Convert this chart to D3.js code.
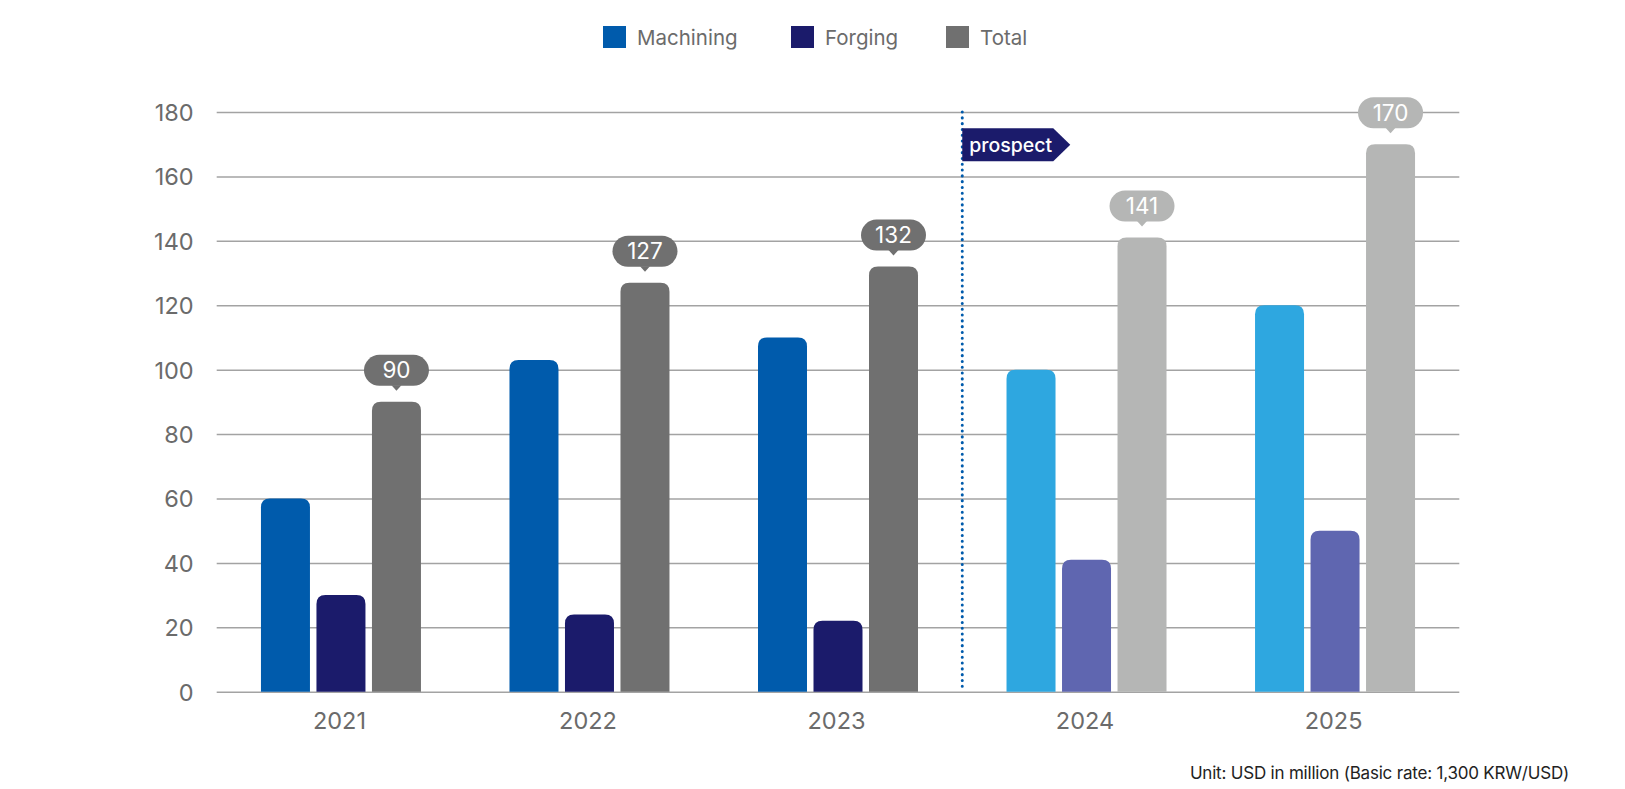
<!DOCTYPE html>
<html><head><meta charset="utf-8">
<script src="https://cdn.jsdelivr.net/npm/d3@7"></script>
<style>
html,body{margin:0;padding:0;background:#fff;}
svg{display:block;font-family:Inter,"Noto Sans",sans-serif;}
</style></head>
<body>
<svg id="chart" width="1625" height="789"></svg>
<script>
const years = ["2021","2022","2023","2024","2025"];
const machining = [60,103,110,100,120];
const forging = [30,24,22,41,50];
const total = [90,127,132,141,170];
const isProspect = [false,false,false,true,true];
const seriesNames = ["Machining","Forging","Total"];
const yTicks = [0,20,40,60,80,100,120,140,160,180];
const colorsActual = ["#005BAC","#1B1B6B","#707070"];
const colorsProspect = ["#2EA7E0","#5F66B0","#B5B6B5"];
const prospectLabel = "prospect";
const unitText = "Unit: USD in million (Basic rate: 1,300 KRW/USD)";

(function(){
const svg = d3.select("#chart");
const pLeft = 216.7, pRight = 1459.3, pTop = 112, pBottom = 691.7;
const x = d3.scaleBand().domain(years).range([pLeft,pRight]).padding(0);
const y = d3.scaleLinear().domain([0,180]).range([pBottom,pTop]);
const barW = 49, gap = 6.5;
const textColor = "#6b6b6b";

// grid
const yAxis = d3.axisLeft(y).tickValues(yTicks).tickSize(-(pRight-pLeft)).tickPadding(23);
const ga = svg.append("g").attr("transform",`translate(${pLeft},0)`).call(yAxis);
ga.select(".domain").remove();
ga.selectAll(".tick line").attr("stroke","#a3a3a3").attr("stroke-width",1.5);
ga.selectAll(".tick text").attr("fill",textColor).attr("font-size",23.5).attr("font-family","Inter").attr("dy","0.36em");

// x labels
const xAxis = d3.axisBottom(x).tickSize(0).tickPadding(21);
const gx = svg.append("g").attr("transform",`translate(-1.5,${pBottom})`).call(xAxis);
gx.select(".domain").remove();
gx.selectAll(".tick text").attr("fill",textColor).attr("font-size",23.5).attr("font-family","Inter").attr("dy","0.71em");

function topRounded(x0,y0,w,h,r){
  r = Math.min(r,h,w/2);
  return `M${x0},${y0+h}V${y0+r}Q${x0},${y0} ${x0+r},${y0}H${x0+w-r}Q${x0+w},${y0} ${x0+w},${y0+r}V${y0+h}Z`;
}

const series = [machining, forging, total];
years.forEach((yr,i)=>{
  const c = x(yr) + x.bandwidth()/2;
  series.forEach((arr,s)=>{
    const x0 = c + (s-1)*(barW+gap) - barW/2;
    const y0 = y(arr[i]);
    const col = (isProspect[i]?colorsProspect:colorsActual)[s];
    svg.append("path").attr("d",topRounded(x0,y0,barW,pBottom-y0,9)).attr("fill",col);
  });
  // callout
  const tc = c + (barW+gap);
  const ty = y(total[i]);
  const col = (isProspect[i]?colorsProspect:colorsActual)[2];
  const pw = 65, ph = 31;
  const pb = ty - 16;
  svg.append("rect").attr("x",tc-pw/2).attr("y",pb-ph).attr("width",pw).attr("height",ph)
    .attr("rx",15.5).attr("fill",col);
  svg.append("path").attr("d",`M${tc-5},${pb-0.5}L${tc},${pb+5}L${tc+5},${pb-0.5}Z`).attr("fill",col);
  svg.append("text").attr("x",tc).attr("y",pb-ph/2).attr("dy","0.36em").attr("text-anchor","middle")
    .attr("fill","#fff").attr("font-size",22.5).attr("font-family","Inter").text(total[i]);
});

// prospect divider
const px = x("2024");
svg.append("line").attr("x1",px).attr("x2",px).attr("y1",y(180)).attr("y2",pBottom)
  .attr("stroke","#005BAC").attr("stroke-width",3).attr("stroke-dasharray","0.1 5.7").attr("stroke-linecap","round");
const ly0 = 128.3, lh = 33;
svg.append("path").attr("d",`M${px},${ly0}H${px+91}L${px+108},${ly0+lh/2}L${px+91},${ly0+lh}H${px}Z`).attr("fill","#1B1B6B");
svg.append("text").attr("x",px+7).attr("y",ly0+lh/2).attr("dy","0.35em").attr("fill","#fff")
  .attr("font-size",19.5).attr("font-family","Inter").attr("font-weight",500).text(prospectLabel);

// legend
const legX = [603, 791, 946];
seriesNames.forEach((n,i)=>{
  svg.append("rect").attr("x",legX[i]).attr("y",26).attr("width",23).attr("height",22).attr("fill",colorsActual[i]);
  svg.append("text").attr("x",legX[i]+34).attr("y",37.5).attr("dy","0.35em").attr("fill",textColor)
    .attr("font-size",20.5).attr("font-family","Inter").text(n);
});

// unit
svg.append("text").attr("x",1569).attr("y",773).attr("dy","0.35em").attr("text-anchor","end")
  .attr("fill","#222").attr("font-size",17).attr("font-family","Inter").attr("letter-spacing","-0.2").text(unitText);
})();
</script>
</body></html>
